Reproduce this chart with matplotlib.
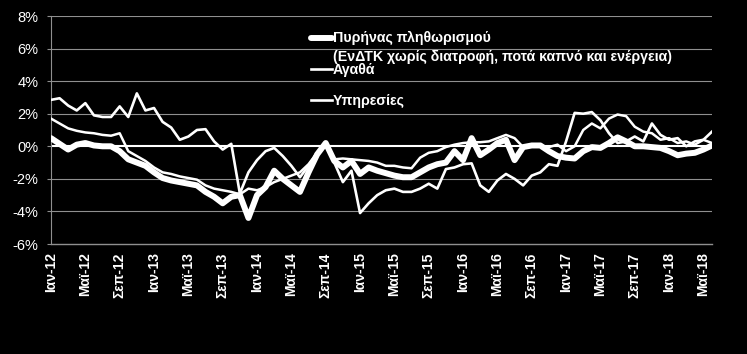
import matplotlib
matplotlib.use('Agg')
import matplotlib.pyplot as plt
import matplotlib.transforms as mtransforms
from matplotlib.lines import Line2D

plt.rcParams['font.family'] = ['Liberation Sans', 'DejaVu Sans']

# monthly, Jan-12 .. Jun-18 (78 points), annual % change
core = [0.5, 0.15, -0.2, 0.1, 0.2, 0.05, 0.0, 0.0, -0.3, -0.8,
        -1.0, -1.2, -1.6, -1.95, -2.1, -2.2, -2.3, -2.4, -2.8, -3.1,
        -3.5, -3.1, -3.0, -4.4, -3.0, -2.5, -1.5, -2.0, -2.4, -2.8,
        -1.6, -0.5, 0.2, -0.9, -1.3, -0.9, -1.7, -1.3, -1.5, -1.65,
        -1.8, -1.9, -1.9, -1.6, -1.3, -1.1, -1.0, -0.3, -0.85, 0.5,
        -0.55, -0.2, 0.2, 0.4, -0.85, -0.05, 0.05, 0.05, -0.3, -0.6,
        -0.7, -0.75, -0.3, -0.05, -0.1, 0.2, 0.55, 0.3, 0.0, 0.0,
        -0.05, -0.1, -0.3, -0.55, -0.45, -0.4, -0.2, 0.05]

goods = [2.85, 2.95, 2.5, 2.2, 2.65, 1.9, 1.8, 1.8, 2.45, 1.8,
         3.25, 2.2, 2.35, 1.5, 1.15, 0.4, 0.6, 1.0, 1.05, 0.3,
         -0.2, 0.15, -2.9, -1.6, -0.85, -0.3, -0.1, -0.6, -1.2, -1.9,
         -1.2, -0.4, 0.2, -1.0, -2.2, -1.5, -4.1, -3.5, -3.0, -2.7,
         -2.6, -2.8, -2.8, -2.6, -2.3, -2.6, -1.4, -1.3, -1.1, -1.05,
         -2.4, -2.8, -2.1, -1.7, -2.0, -2.4, -1.8, -1.6, -1.1, -1.2,
         0.3, 2.05, 2.0, 2.1, 1.6, 0.8, 0.2, 0.3, 0.6, 0.3,
         1.4, 0.7, 0.4, 0.5, 0.0, 0.3, 0.4, 0.9]

services = [1.7, 1.4, 1.1, 0.95, 0.85, 0.8, 0.7, 0.65, 0.8, -0.3,
            -0.6, -0.9, -1.3, -1.6, -1.7, -1.85, -1.95, -2.05, -2.4, -2.6,
            -2.7, -2.8, -2.95, -2.6, -2.7, -2.5, -2.2, -2.0, -1.8, -1.6,
            -1.1, -0.4, 0.2, -0.8, -0.75, -0.8, -0.85, -0.9, -1.0, -1.2,
            -1.2, -1.3, -1.35, -0.7, -0.4, -0.3, -0.05, 0.1, 0.2, 0.25,
            0.25, 0.3, 0.5, 0.7, 0.5, -0.05, 0.0, 0.05, -0.05, 0.1,
            -0.3, 0.0, 1.0, 1.4, 1.1, 1.7, 1.95, 1.85, 1.2, 0.9,
            0.8, 0.4, 0.5, 0.2, 0.3, 0.1, 0.4, 0.2]

tick_labels = ['Ιαν-12', 'Μαϊ-12', 'Σεπ-12', 'Ιαν-13', 'Μαϊ-13', 'Σεπ-13',
               'Ιαν-14', 'Μαϊ-14', 'Σεπ-14', 'Ιαν-15', 'Μαϊ-15', 'Σεπ-15',
               'Ιαν-16', 'Μαϊ-16', 'Σεπ-16', 'Ιαν-17', 'Μαϊ-17', 'Σεπ-17',
               'Ιαν-18', 'Μαϊ-18']

labels = ['Πυρήνας πληθωρισμού',
          '(ΕνΔΤΚ χωρίς διατροφή, ποτά καπνό και ενέργεια)',
          'Αγαθά', 'Υπηρεσίες']

W, H = 747, 354
fig = plt.figure(figsize=(W / 100, H / 100), dpi=100, facecolor='black')
ax = fig.add_axes([51 / W, 1 - 244 / H, 661 / W, 228 / H])
ax.set_facecolor('black')

x = list(range(len(core)))
grid_c = '#8f8f8f'

ax.set_xlim(0, len(core) - 1)
ax.set_ylim(-6, 8)
yt = list(range(-6, 9, 2))
ax.set_yticks(yt)
ax.set_yticklabels([f'{v}%' for v in yt])
for v in yt:
    if v not in (0, -6):
        ax.axhline(v, color=grid_c, lw=0.8, zorder=1)
ax.axhline(0, color='white', lw=1.5, zorder=2)

ax.set_xticks(x[::4])
ax.set_xticklabels(tick_labels, rotation=90, fontweight='bold')
shift = mtransforms.ScaledTranslation(6 / 100, 0, fig.dpi_scale_trans)
for lab in ax.get_xticklabels():
    lab.set_transform(lab.get_transform() + shift)

ax.tick_params(axis='x', length=0, pad=6, labelsize=10, labelcolor='white')
ax.tick_params(axis='y', length=3, width=0.8, color=grid_c, pad=6,
               labelsize=10.5, labelcolor='white')

for s in ['top', 'right']:
    ax.spines[s].set_visible(False)
ax.spines['left'].set_color(grid_c)
ax.spines['left'].set_linewidth(0.8)
ax.spines['bottom'].set_color(grid_c)
ax.spines['bottom'].set_linewidth(1.0)

ax.plot(x, goods, color='white', lw=1.9, solid_joinstyle='round', zorder=3)
ax.plot(x, services, color='white', lw=1.8, solid_joinstyle='round', zorder=3)
ax.plot(x, core, color='white', lw=4.3, solid_joinstyle='round',
        solid_capstyle='round', zorder=4)

# legend drawn by hand (Excel-style wrapped entry)
def fy(py):
    return 1 - py / H

hx0, hx1, tx = 311 / W, 332 / W, 333 / W
fig.add_artist(Line2D([hx0, hx1], [fy(38), fy(38)], color='white', lw=4.3,
                      solid_capstyle='round', transform=fig.transFigure))
fig.add_artist(Line2D([hx0, hx1], [fy(69), fy(69)], color='white', lw=1.9,
                      transform=fig.transFigure))
fig.add_artist(Line2D([hx0, hx1], [fy(100), fy(100)], color='white', lw=1.9,
                      transform=fig.transFigure))
for txt, py in zip(labels, [38, 57, 70, 101]):
    fig.text(tx, fy(py), txt, color='white', fontsize=10.2, fontweight='bold',
             ha='left', va='center')

fig.savefig('out.png', dpi=100, facecolor='black')
